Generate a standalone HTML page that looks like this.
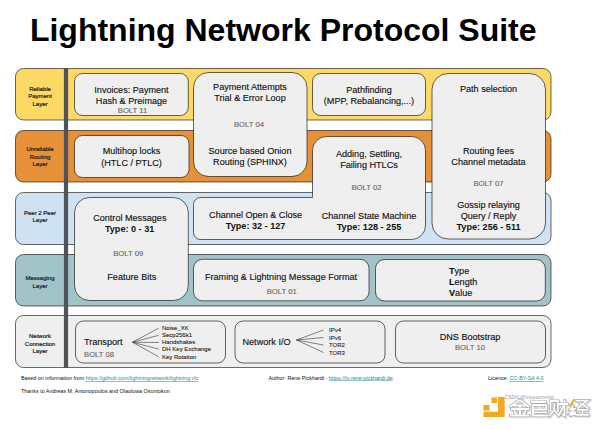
<!DOCTYPE html>
<html><head><meta charset="utf-8">
<style>
html,body{margin:0;padding:0;background:#fff;width:600px;height:429px;overflow:hidden}
svg{display:block}
text{font-family:"Liberation Sans",sans-serif}
.t{font-size:9.1px;fill:#111;text-anchor:middle;stroke:#111;stroke-width:0.14px}
.b{font-size:7.7px;fill:#666;text-anchor:middle;stroke:#666;stroke-width:0.12px}
.tb{font-size:9.1px;fill:#111;text-anchor:middle;font-weight:bold}
.lab{font-size:6px;fill:#1a1a1a;text-anchor:middle;stroke:#1a1a1a;stroke-width:0.2px}
.sm{font-size:6px;fill:#111;stroke:#111;stroke-width:0.08px}
.ft{font-size:5.4px;fill:#111}
.lk{fill:#2a8891;text-decoration:underline}
</style></head><body>
<svg width="600" height="429" viewBox="0 0 600 429">
<text x="29.9" y="41.3" style="font-size:32px;font-weight:bold;fill:#000">Lightning Network Protocol Suite</text>

<!-- layers -->
<g stroke="rgba(0,0,0,0.58)" stroke-width="1">
<rect x="15.5" y="68.5" width="535.5" height="51.5" rx="8" fill="#ffd966"/>
<rect x="15.5" y="130.5" width="535.5" height="51.5" rx="8" fill="#e69138"/>
<rect x="15.5" y="192.5" width="535.5" height="52" rx="8" fill="#cfe2f3"/>
<rect x="15.5" y="254.5" width="535.5" height="51.5" rx="8" fill="#a2c4c9"/>
<rect x="15.5" y="315.5" width="535.5" height="52" rx="8" fill="#efefef"/>
</g>
<rect x="63.9" y="68" width="4.2" height="300" fill="#505357"/>

<text class="lab"><tspan x="40" y="91.1">Reliable</tspan><tspan x="40" y="98.4">Payment</tspan><tspan x="40" y="105.9">Layer</tspan></text>
<text class="lab"><tspan x="40" y="151">Unreliable</tspan><tspan x="40" y="158.5">Routing</tspan><tspan x="40" y="166">Layer</tspan></text>
<text class="lab"><tspan x="40" y="214.5">Peer 2 Peer</tspan><tspan x="40" y="222">Layer</tspan></text>
<text class="lab"><tspan x="40" y="280">Messaging</tspan><tspan x="40" y="287.5">Layer</tspan></text>
<text class="lab"><tspan x="40" y="338">Network</tspan><tspan x="40" y="345.5">Connection</tspan><tspan x="40" y="353">Layer</tspan></text>

<!-- boxes -->
<g stroke="rgba(0,0,0,0.6)" stroke-width="1" fill="#efefef">
<rect x="74.5" y="73.5" width="113.8" height="42" rx="8"/>
<rect x="193.5" y="72.5" width="113.5" height="104" rx="15"/>
<rect x="74.5" y="135.5" width="114.5" height="42" rx="8"/>
<rect x="312.5" y="73.5" width="113" height="42" rx="8"/>
<rect x="432" y="73.5" width="113.5" height="165.5" rx="16"/>
<rect x="74.5" y="197.5" width="113.8" height="103" rx="15"/>
<path d="M326.5,136.5 H411.5 A14,14 0 0 1 425.5,150.5 V225.5 A14,14 0 0 1 411.5,239.5 H200.5 A7,7 0 0 1 193.5,232.5 V204.5 A7,7 0 0 1 200.5,197.5 H312.5 V150.5 A14,14 0 0 1 326.5,136.5 Z"/>
<rect x="193.5" y="259.3" width="175.5" height="41.5" rx="9"/>
<rect x="375.5" y="259.5" width="169.8" height="41.5" rx="9"/>
<rect x="75.5" y="321" width="150" height="42" rx="8"/>
<rect x="235" y="321" width="150" height="42" rx="8"/>
<rect x="395.5" y="321" width="150" height="42" rx="8"/>
</g>

<!-- box texts -->
<text class="t"><tspan x="131.5" y="93">Invoices: Payment</tspan><tspan x="131.5" y="103.5">Hash &amp; Preimage</tspan></text>
<text class="b" x="132.5" y="112.8">BOLT 11</text>
<text class="t"><tspan x="131.5" y="154">Multihop locks</tspan><tspan x="131.5" y="166">(HTLC / PTLC)</tspan></text>

<text class="t"><tspan x="250" y="90">Payment Attempts</tspan><tspan x="250" y="101">Trial &amp; Error Loop</tspan></text>
<text class="b" x="249" y="127">BOLT 04</text>
<text class="t"><tspan x="250" y="153.5">Source based Onion</tspan><tspan x="250" y="165">Routing (SPHINX)</tspan></text>

<text class="t"><tspan x="369" y="92.5">Pathfinding</tspan><tspan x="369" y="103.6">(MPP, Rebalancing,...)</tspan></text>

<text class="t" x="488.5" y="91.8">Path selection</text>
<text class="t"><tspan x="488.5" y="154">Routing fees</tspan><tspan x="488.5" y="165">Channel metadata</tspan></text>
<text class="b" x="488.5" y="186">BOLT 07</text>
<text class="t"><tspan x="488.5" y="207.8">Gossip relaying</tspan><tspan x="488.5" y="218.8">Query / Reply</tspan></text>
<text class="tb" x="488.5" y="229.8">Type: 256 - 511</text>

<text class="t"><tspan x="369" y="157.2">Adding, Settling,</tspan><tspan x="369" y="167.7">Failing HTLCs</tspan></text>
<text class="b" x="366.5" y="189.5">BOLT 02</text>
<text class="t" x="369" y="218.5">Channel State Machine</text>
<text class="tb" x="369" y="229.5">Type: 128 - 255</text>

<text class="t" x="255.6" y="217.6">Channel Open &amp; Close</text>
<text class="tb" x="255.6" y="228.6">Type: 32 - 127</text>

<text class="t" x="129.8" y="220.8">Control Messages</text>
<text class="tb" x="129.6" y="231.6">Type: 0 - 31</text>
<text class="b" x="128.2" y="255.5">BOLT 09</text>
<text class="t" x="131.8" y="279.5">Feature Bits</text>

<text class="t" x="281" y="280">Framing &amp; Lightning Message Format</text>
<text class="b" x="281.7" y="294">BOLT 01</text>

<text class="t" style="text-anchor:start"><tspan x="449" y="274.4"><tspan font-weight="bold">T</tspan>ype</tspan><tspan x="449" y="285.3"><tspan font-weight="bold">L</tspan>ength</tspan><tspan x="449" y="296.2"><tspan font-weight="bold">V</tspan>alue</tspan></text>

<text class="t" style="text-anchor:start" x="84" y="345.2">Transport</text>
<text class="b" style="text-anchor:start" x="84" y="356.5">BOLT 08</text>
<g stroke="#333" stroke-width="0.6">
<line x1="132.5" y1="342.2" x2="158.7" y2="328.2"/><line x1="132.5" y1="342.2" x2="158.7" y2="335.3"/><line x1="132.5" y1="342.2" x2="158.7" y2="342.5"/><line x1="132.5" y1="342.2" x2="158.7" y2="349.2"/><line x1="132.5" y1="342.2" x2="158.7" y2="356.8"/>
</g>
<text class="sm"><tspan x="162" y="329.6">Noise_XK</tspan><tspan x="162" y="336.9">Secp256k1</tspan><tspan x="162" y="344.1">Handshakes</tspan><tspan x="162" y="351.4">DH Key Exchange</tspan><tspan x="162" y="358.6">Key Rotation</tspan></text>

<text class="t" style="text-anchor:start" x="242.5" y="345.2">Network I/O</text>
<g stroke="#333" stroke-width="0.6">
<line x1="296.5" y1="340" x2="323.5" y2="330"/><line x1="296.5" y1="340" x2="323.5" y2="337.5"/><line x1="296.5" y1="340" x2="323.5" y2="345"/><line x1="296.5" y1="340" x2="323.5" y2="352.5"/>
</g>
<text class="sm"><tspan x="329" y="332">IPv4</tspan><tspan x="329" y="339.5">IPv6</tspan><tspan x="329" y="347">TOR2</tspan><tspan x="329" y="354.5">TOR3</tspan></text>

<text class="t" x="470" y="339.8">DNS Bootstrap</text>
<text class="b" x="470" y="350">BOLT 10</text>

<!-- footer -->
<text class="ft" x="21" y="380">Based on information from <tspan class="lk">https://github.com/lightningnetwork/lightning-rfc</tspan></text>
<text class="ft" x="21" y="392.5">Thanks to Andreas M. Antonopoulos and Olaoluwa Osuntokun</text>
<text class="ft" x="268.5" y="379.5">Author: Rene Pickhardt - <tspan class="lk">https://ln.rene-pickhardt.de</tspan></text>
<text class="ft" x="488" y="380">Licence: <tspan class="lk">CC-BY-SA 4.0</tspan></text>

<!-- watermark -->
<g fill="#f5a623">
<rect x="491.5" y="397.5" width="5.5" height="5.5"/>
<rect x="483.5" y="405" width="6" height="5.5"/>
<path d="M498,397 H504.7 V417 H483.5 V411.7 H498 Z"/>
</g>
<text x="504.5" y="398.6" style="font-size:5.1px;fill:#999">CSDN @muyourmind</text>
<defs><path id="wm" d="M510.5,406.5 L520,400 L528.5,406.5 M514,405.5 H526 M512,409 H528 M520,405.5 V415.5 M514.5,411 L516,414 M525.5,411 L524,414 M510.5,415.5 H528.5
M532,402 H545 M533,405 H546 V409.5 H533 Z M539.5,405 V409.5 M533,409.5 V415.5 H547 M533,412.3 H546
M550.5,401 V411 M550.5,401 H558 V411 M554.3,404 V410 M553,411.5 L549.5,415.5 M555.5,411.5 L558.5,415.5 M559.5,404 H567.5 M564.5,400.5 V415.5 L562.5,414.5 M564,405 L559.5,414
M573,406 L570.5,409 L574.5,409 L570.5,413 L575,412.5 M570.5,415 L575,414 M577,400.7 H587 L578,408 M581,403.5 L588,408 M578,409.8 H587 M582.5,409.8 V414.9 M576.5,414.9 H588"/></defs>
<g fill="none" stroke-linejoin="miter" stroke-linecap="square">
<use href="#wm" stroke="#dcdcdc" stroke-width="3.8" transform="translate(0.7,0.9)"/>
<use href="#wm" stroke="#a6a6a6" stroke-width="3.2"/>
<use href="#wm" stroke="#ffffff" stroke-width="1.8"/>
</g>
<path d="M574,399.8 L570.5,405.5" stroke="#e6b422" stroke-width="2.2" stroke-linecap="round"/>
</svg>
</body></html>
